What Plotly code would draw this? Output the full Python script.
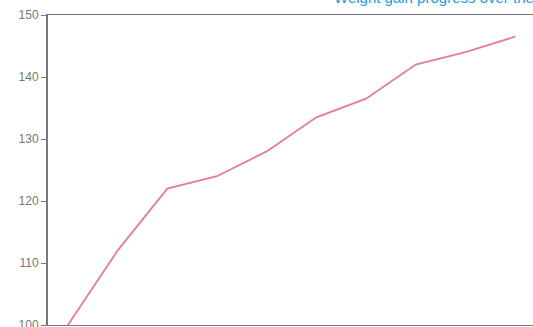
import plotly.graph_objects as go

# values
steps = list(range(10))
values = [100, 112, 122, 124, 128, 133.5, 136.5, 142, 144, 146.5]
y_ticks = [100, 110, 120, 130, 140, 150]

AXIS = '#777777'

fig = go.Figure()
fig.add_trace(go.Scatter(
    x=steps, y=values, mode='lines',
    line=dict(color='#e8799f', width=1.8),
    showlegend=False, hoverinfo='skip',
))

# title sits mostly above the visible window, as in the reference
fig.add_annotation(
    text='Weight gain progress over the weeks', xref='paper', yref='paper',
    x=0.585, y=1, xanchor='left', yanchor='middle', yshift=18,
    showarrow=False, font=dict(family='Liberation Sans', size=15, color='#1e9be6'),
)

fig.update_layout(
    template='none',
    width=533, height=327,
    margin=dict(l=48, r=0, t=15, b=2),
    paper_bgcolor='white', plot_bgcolor='white',
    font=dict(family='Liberation Sans', size=12, color='#777777'),
    xaxis=dict(range=[-0.4, 9.36], showgrid=False, zeroline=False,
               showline=True, linecolor=AXIS, linewidth=1, mirror=True,
               showticklabels=False, ticks='', automargin=False),
    yaxis=dict(range=[100, 150], tickvals=y_ticks, showgrid=False, zeroline=False,
               showline=True, linecolor=AXIS, linewidth=2,
               ticks='outside', ticklen=5, tickcolor=AXIS, tickwidth=1,
               ticklabeloverflow='allow', automargin=False),
)

# drop the default page margin so the figure starts at the window corner
fig.write_html("out.html", config={'displayModeBar': False},
               post_script="document.body.style.margin='0';")
